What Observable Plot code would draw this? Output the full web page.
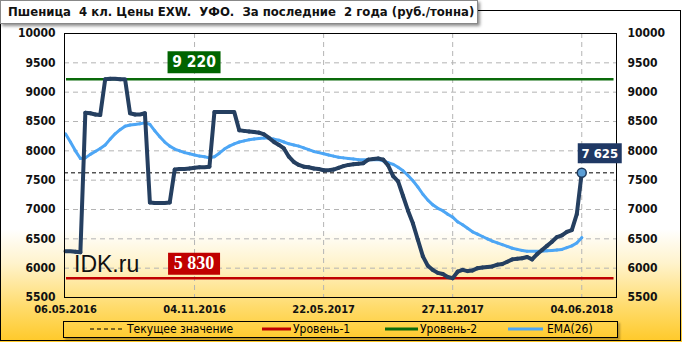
<!DOCTYPE html>
<html><head><meta charset="utf-8">
<script src="https://cdn.jsdelivr.net/npm/d3@7"></script>
<script src="https://cdn.jsdelivr.net/npm/@observablehq/plot@0.6"></script>
<style>
body{margin:0;background:#fff;}
#wrap{position:relative;width:682px;height:342px;overflow:hidden;background:linear-gradient(to bottom,#fff 0%,#fff 67%,#fff3cc 77%,#ffdb6a 90%,#ffc928 100%);font-family:"DejaVu Sans Condensed","DejaVu Sans",sans-serif;}
#border{position:absolute;left:0;top:10px;width:679px;height:329px;border:1px solid #000;}
#title{position:absolute;left:0;top:0;width:478px;height:24px;background:#fff;border:1px solid #888;box-sizing:border-box;box-shadow:2px 2px 3px rgba(0,0,0,.45);font-weight:bold;font-family:"DejaVu Sans Condensed","DejaVu Sans",sans-serif;font-size:13px;line-height:22px;padding-left:7px;white-space:pre;color:#111;}
#legend{position:absolute;left:63px;top:321px;width:553px;height:15px;border:1px solid #000;box-shadow:2px 2px 2px rgba(0,0,0,.3);}
.li{position:absolute;top:321px;height:17px;line-height:17px;font-size:12px;color:#000;white-space:pre;}
.ln{position:absolute;}
#wm{position:absolute;left:74px;top:253px;font-family:"Liberation Sans",Arial,sans-serif;font-size:23px;line-height:23px;color:#111;}
#chart svg{position:absolute;left:0;top:0;}
</style>
</head><body>
<div id="wrap">
  <div id="border"></div>
  <div id="chart"></div>
  <div id="wm">IDK.ru</div>
  <div id="legend"></div>
  <div id="title"></div>
</div>
<script>
const titleText = "Пшеница  4 кл. Цены EXW.  УФО.  За последние  2 года (руб./тонна)";
const xTickIdx = [0, 26, 52, 78, 104];
const xTickLabels = ["06.05.2016", "04.11.2016", "22.05.2017", "27.11.2017", "04.06.2018"];
const yTicks = [5500, 6000, 6500, 7000, 7500, 8000, 8500, 9000, 9500, 10000];
const level1 = 5830;
const level2 = 9220;
const current = 7625;
const legendLabels = ["Текущее значение", "Уровень-1", "Уровень-2", "EMA(26)"];

const price = [
 6290,6290,6280,6270,8650,8640,8620,8610,9220,9230,
 9230,9220,9220,8640,8620,8620,8640,7120,7110,7110,
 7110,7120,7680,7690,7690,7700,7710,7720,7720,7730,
 8660,8660,8660,8660,8660,8350,8340,8330,8320,8310,
 8280,8220,8150,8100,8040,7900,7810,7760,7730,7720,
 7700,7690,7670,7670,7680,7710,7740,7760,7770,7780,
 7790,7850,7860,7870,7850,7750,7570,7480,7230,6980,
 6760,6480,6200,6040,5970,5920,5900,5850,5830,5940,
 5970,5950,5960,6000,6010,6020,6030,6060,6070,6110,
 6150,6160,6170,6190,6150,6240,6310,6380,6450,6530,
 6560,6620,6650,6920,7625
];
const ema = [
 8290,8150,8000,7870,7880,7940,7990,8040,8100,8200,
 8290,8360,8420,8440,8450,8460,8480,8450,8340,8240,
 8150,8080,8030,8000,7970,7950,7930,7910,7900,7880,
 7900,7960,8030,8080,8120,8150,8170,8190,8200,8210,
 8220,8220,8200,8180,8150,8120,8100,8080,8050,8020,
 7990,7970,7950,7930,7910,7890,7880,7870,7860,7850,
 7850,7850,7850,7850,7830,7800,7770,7720,7660,7580,
 7490,7380,7260,7160,7080,7020,6980,6920,6870,6790,
 6740,6680,6620,6580,6540,6500,6460,6430,6400,6370,
 6340,6320,6300,6290,6290,6290,6290,6295,6300,6310,
 6320,6350,6380,6430,6520
];

const data = price.map((v, i) => ({i, price: v, ema: ema[i]}));
const last = data[data.length - 1];
const fmt = v => d3.format(",")(v).replace(",", " ");
const boxSymbol = (w, h) => ({draw(ctx) { ctx.rect(-w / 2, -h / 2, w, h); }});

const chart = Plot.plot({
  width: 682, height: 342,
  marginLeft: 64, marginRight: 66, marginTop: 33, marginBottom: 45,
  style: {background: "transparent", fontFamily: "'DejaVu Sans Condensed','DejaVu Sans',sans-serif", fontWeight: "bold", fontSize: "12px", color: "#111", overflow: "visible"},
  x: {domain: [-0.2, 111], axis: null},
  y: {domain: [yTicks[0], yTicks[yTicks.length - 1]], axis: null},
  marks: [
    Plot.gridY(yTicks.slice(1, -1), {stroke: "#b4b4b4", strokeOpacity: 1, strokeDasharray: "5,4"}),
    Plot.gridX(xTickIdx.slice(1), {stroke: "#b4b4b4", strokeOpacity: 1, strokeDasharray: "5,4"}),
    Plot.ruleY([current], {stroke: "#000", strokeWidth: 1, strokeDasharray: "4,3"}),
    Plot.ruleY([level2], {x1: 0.2, x2: 110.5, stroke: "#0a6a0a", strokeWidth: 2.5, ariaLabel: "lvl2"}),
    Plot.ruleY([level1], {x1: 0.2, x2: 110.5, stroke: "#c00000", strokeWidth: 2.5, ariaLabel: "lvl1"}),
    Plot.lineY(data, {x: "i", y: "ema", stroke: "#4da6f5", strokeWidth: 3, ariaLabel: "ema"}),
    Plot.lineY(data, {x: "i", y: "price", stroke: "#253f60", strokeWidth: 4, strokeLinejoin: "round", ariaLabel: "price"}),
    Plot.dot([last], {x: "i", y: "price", r: 4.5, fill: "#5b9ed6", stroke: "#1f3a5c", strokeWidth: 1.5}),
    Plot.frame({stroke: "#000"}),
    Plot.axisY({ticks: yTicks, anchor: "left", tickSize: 0, tickPadding: 9, fontSize: 12, fontWeight: "bold", tickFormat: d => String(d), label: null}),
    Plot.axisY({ticks: yTicks, anchor: "right", tickSize: 0, tickPadding: 11, fontSize: 12, fontWeight: "bold", tickFormat: d => String(d), label: null}),
    Plot.axisX({ticks: xTickIdx, anchor: "bottom", tickSize: 0, tickPadding: 8, fontSize: 11, fontWeight: "bold", label: null,
      tickFormat: d => xTickLabels[xTickIdx.indexOf(d)]}),
    // label boxes
    Plot.dot([level2], {x: xTickIdx[1], y: d => d, dx: -0.5, dy: -17, r: 10, symbol: boxSymbol(53, 22), fill: "#006400", stroke: null, ariaLabel: "box"}),
    Plot.dot([level1], {x: xTickIdx[1], y: d => d, dx: -0.5, dy: -14.5, r: 10, symbol: boxSymbol(52, 22), fill: "#c00000", stroke: null, ariaLabel: "box"}),
    Plot.dot([last], {x: "i", y: "price", dx: 18, dy: -19.5, r: 10, symbol: boxSymbol(44, 20), fill: "#1f3864", stroke: null, ariaLabel: "box"}),
    Plot.text([level2], {x: xTickIdx[1], y: d => d, dx: -0.5, dy: -17, text: fmt,
      fill: "#fff", fontSize: 15.5, fontWeight: "bold"}),
    Plot.text([level1], {x: xTickIdx[1], y: d => d, dx: -0.5, dy: -14.5, text: fmt,
      fill: "#fff", fontSize: 18, fontWeight: "bold", fontFamily: "'Liberation Serif',serif"}),
    Plot.text([last], {x: "i", y: "price", dx: 18, dy: -19.5, text: d => fmt(d.price),
      fill: "#fff", fontSize: 13, fontWeight: "bold"})
  ]
});
document.getElementById("chart").appendChild(chart);

const svg = d3.select(chart);
svg.selectAll('g[aria-label="price"], g[aria-label="lvl1"], g[aria-label="lvl2"]')
   .style("filter", "drop-shadow(2px 2px 1.5px rgba(0,0,0,0.35))");
svg.selectAll('g[aria-label="ema"]').style("filter", "drop-shadow(1px 1px 1px rgba(0,0,0,0.15))");
svg.selectAll('g[aria-label="box"]').style("filter", "drop-shadow(2px 2px 2px rgba(0,0,0,0.45))");

document.getElementById("title").textContent = titleText;

// legend
const wrap = document.getElementById("wrap");
const items = [
  {lx: 90, lw: 33, tx: 127, kind: "dash", color: "#000"},
  {lx: 262, lw: 29, tx: 293, kind: "solid", color: "#c00000"},
  {lx: 385, lw: 33, tx: 420, kind: "solid", color: "#0a6a0a"},
  {lx: 508, lw: 35, tx: 547, kind: "solid", color: "#4da6f5"}
];
items.forEach((it, k) => {
  const ns = "http://www.w3.org/2000/svg";
  const s = document.createElementNS(ns, "svg");
  s.setAttribute("width", it.lw); s.setAttribute("height", 6);
  s.setAttribute("class", "ln");
  s.style.left = it.lx + "px"; s.style.top = "326px";
  const l = document.createElementNS(ns, "line");
  l.setAttribute("x1", 0); l.setAttribute("x2", it.lw); l.setAttribute("y1", 3); l.setAttribute("y2", 3);
  l.setAttribute("stroke", it.color);
  l.setAttribute("stroke-width", it.kind === "dash" ? 1 : 3);
  if (it.kind === "dash") l.setAttribute("stroke-dasharray", "4,3");
  s.appendChild(l);
  wrap.appendChild(s);
  const t = document.createElement("div");
  t.className = "li"; t.style.left = it.tx + "px"; t.textContent = legendLabels[k];
  wrap.appendChild(t);
});
</script>
</body></html>
